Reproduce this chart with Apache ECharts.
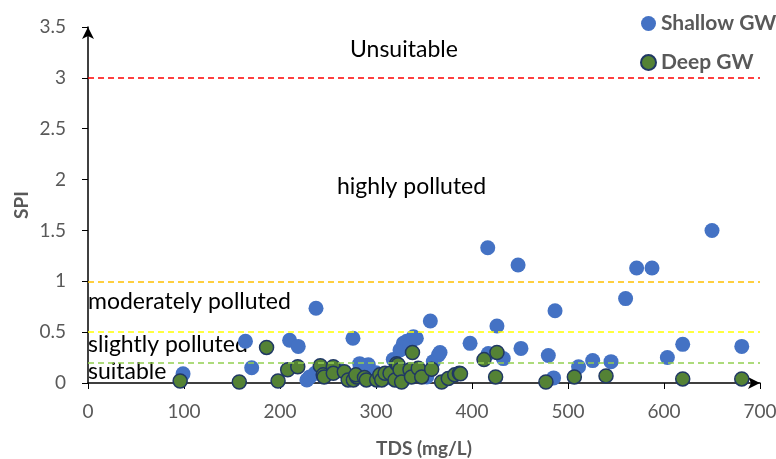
<!DOCTYPE html>
<html>
<head>
<meta charset="utf-8">
<style type="text/css">
body { margin: 0; background: #fff; }
</style>
</head>
<body>
<div style="width: 776px;height: 459px;" id="chart"></div>
<script src="https://cdn.jsdelivr.net/npm/echarts@6/dist/echarts.min.js"></script>
<script>

// TDS (mg/L), SPI
let shallowGW = [
    [99, 0.09], [164, 0.41], [170.5, 0.15], [210, 0.42], [219, 0.36], [228, 0.03], [231, 0.06],
    [236.5, 0.095], [237.5, 0.735], [262, 0.12], [276, 0.44], [283, 0.19], [292, 0.18], [300, 0.1],
    [310, 0.05], [318, 0.23], [325, 0.325], [328.5, 0.39], [332, 0.41], [335, 0.37], [339, 0.455],
    [342, 0.44], [328.5, 0.03], [345, 0.1], [352.8, 0.06], [356.6, 0.61], [359.7, 0.21], [365, 0.275],
    [366.7, 0.30], [398, 0.39], [417, 0.29], [416.4, 1.33], [426, 0.56], [432.6, 0.24], [448, 1.16],
    [451, 0.34], [479.5, 0.27], [485, 0.05], [486.5, 0.71], [511, 0.16], [525.7, 0.22], [544.8, 0.21],
    [560, 0.83], [571.5, 1.13], [587.5, 1.13], [603.5, 0.25], [619.5, 0.38], [650, 1.5], [681, 0.36]
];

let deepGW = [
    [96, 0.02], [157.6, 0.01], [186, 0.35], [198, 0.02], [208, 0.13], [218.5, 0.16], [242, 0.17],
    [245, 0.08], [246, 0.06], [255.5, 0.16], [255.5, 0.095], [267, 0.11], [271, 0.03], [276.4, 0.03],
    [280, 0.06], [279, 0.08], [288, 0.055], [290, 0.03], [300.7, 0.03], [304, 0.08], [306, 0.03],
    [309.4, 0.095], [314.6, 0.095], [319.8, 0.03], [321.5, 0.19], [323, 0.18], [325, 0.13], [326.7, 0.01],
    [335.4, 0.13], [337, 0.06], [338, 0.30], [344, 0.145], [347.6, 0.06], [358, 0.135], [368.4, 0.01],
    [375.3, 0.045], [382, 0.08], [386.8, 0.095], [388, 0.09], [412.5, 0.23], [424.6, 0.06], [426, 0.30],
    [477, 0.01], [506.6, 0.06], [539.6, 0.07], [619.5, 0.04], [681, 0.04]
];

// class limits
let limits = [3, 1, 0.5, 0.2];
let limitColors = ['#ff0000', '#ffc000', '#ffff00', '#92d050'];
let classNames = ['Unsuitable', 'highly polluted', 'moderately polluted', 'slightly polluted', 'suitable'];

let chart = echarts.init(document.getElementById('chart'));

let font = 'Lato';
let classPos = [[350, 50], [337, 187], [88, 302], [88, 345], [88, 372]];

let option = {
    animation: false,
    textStyle: {fontFamily: font},
    grid: {left: 88, right: 16, top: 27, bottom: 76, containLabel: false, outerBoundsMode: 'none'},
    legend: {
        orient: 'vertical',
        left: 635,
        top: 8,
        itemGap: 18,
        itemWidth: 15,
        itemHeight: 15,
        textStyle: {color: '#595959', fontSize: 21, fontWeight: 'bold', fontFamily: font},
        data: ['Shallow GW', 'Deep GW']
    },
    xAxis: {
        type: 'value',
        min: 0,
        max: 700,
        interval: 100,
        name: 'TDS (mg/L)',
        nameLocation: 'middle',
        nameGap: 56,
        nameMoveOverlap: false,
        nameTextStyle: {color: '#595959', fontSize: 19, fontWeight: 'bold'},
        axisLine: {lineStyle: {color: '#000', width: 1.5}, symbol: ['none', 'arrow'], symbolSize: [9, 12]},
        axisTick: {inside: false, length: 6, lineStyle: {color: '#000'}},
        axisLabel: {color: '#595959', fontSize: 19, margin: 19},
        splitLine: {show: false}
    },
    yAxis: {
        type: 'value',
        min: 0,
        max: 3.5,
        interval: 0.5,
        name: 'SPI',
        nameLocation: 'middle',
        nameGap: 57,
        nameMoveOverlap: false,
        nameTextStyle: {color: '#595959', fontSize: 19, fontWeight: 'bold'},
        axisLine: {lineStyle: {color: '#000', width: 1.5}, symbol: ['none', 'arrow'], symbolSize: [9, 12]},
        axisTick: {inside: false, length: 6, lineStyle: {color: '#000'}},
        axisLabel: {color: '#595959', fontSize: 19, margin: 22},
        splitLine: {show: false}
    },
    graphic: classNames.map((t, i) => ({
        type: 'text',
        x: classPos[i][0],
        y: classPos[i][1],
        style: {text: t, fill: '#000', font: '23px Lato', verticalAlign: 'middle'}
    })),
    series: [
        {
            name: 'Shallow GW',
            type: 'scatter',
            symbolSize: 15,
            itemStyle: {color: '#4472c4', opacity: 1},
            data: shallowGW,
            markLine: {
                silent: true,
                symbol: 'none',
                label: {show: false},
                data: limits.map((v, i) => ({
                    yAxis: v,
                    lineStyle: {color: limitColors[i], type: [6, 4], width: 1.5}
                }))
            },
            z: 2
        },
        {
            name: 'Deep GW',
            type: 'scatter',
            symbolSize: 14,
            itemStyle: {color: '#548235', borderColor: '#203864', borderWidth: 1.5, opacity: 1},
            data: deepGW,
            z: 3
        }
    ]
};

chart.setOption(option);

</script>
</body>
</html>
